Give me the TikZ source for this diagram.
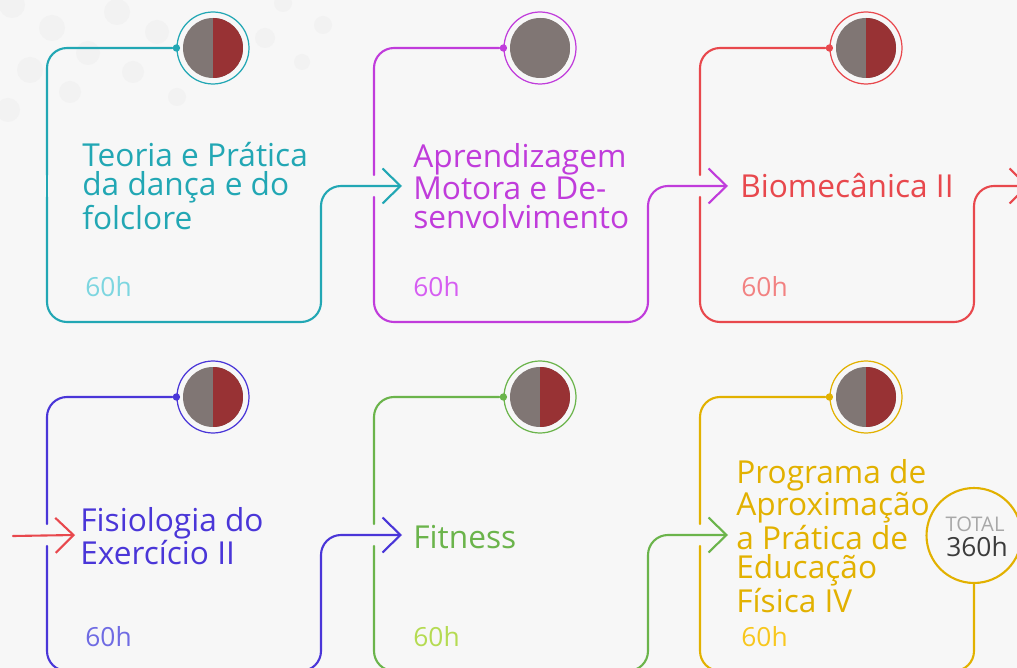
\documentclass[tikz,border=0pt]{standalone}
\usepackage{fontspec}
\setmainfont{Open Sans}
\usetikzlibrary{arrows.meta}

\definecolor{bg}{HTML}{F7F7F7}
\definecolor{speck}{HTML}{F2F2F2}
\definecolor{disc}{HTML}{807674}
\definecolor{half}{HTML}{983234}
\definecolor{teal}{HTML}{22A7B4}
\definecolor{teallt}{HTML}{7DD6E0}
\definecolor{mag}{HTML}{C03CDB}
\definecolor{maglt}{HTML}{D65EF2}
\definecolor{red}{HTML}{E8484D}
\definecolor{redlt}{HTML}{F28282}
\definecolor{blue}{HTML}{4A36D8}
\definecolor{bluelt}{HTML}{6F6BE3}
\definecolor{green}{HTML}{6BB44B}
\definecolor{greenlt}{HTML}{B5DB52}
\definecolor{gold}{HTML}{E2B100}
\definecolor{goldlt}{HTML}{F8C71E}
\definecolor{totgrey}{HTML}{A8A8A8}
\definecolor{totdark}{HTML}{3C3C3C}

\tikzset{
  wire/.style={line width=1.2pt, line cap=round, rounded corners=0.4cm},
  flow/.style={wire, -{Straight Barb[length=0.36cm, width=0.7cm]}},
  ring/.style 2 args={circle, draw=#1, line width=0.7pt, fill=bg, minimum size=1.44cm, inner sep=0pt,
    path picture={
      \fill[disc] (path picture bounding box.center) circle[radius=0.6cm];
      \fill[#2] ([yshift=0.6cm]path picture bounding box.center)
        arc[start angle=90, end angle=-90, radius=0.6cm] -- cycle;}},
  dot/.style={circle, fill=#1, inner sep=0pt, minimum size=4.2pt},
  title/.style={anchor=west, align=left, inner sep=0pt, font=\fontsize{18}{16.8}\selectfont},
  hours/.style={anchor=base west, inner sep=0pt, font=\fontsize{15}{15}\selectfont},
  totalring/.style={circle, draw=gold, line width=1.2pt, fill=bg, minimum size=1.9cm, inner sep=0pt},
}

\begin{document}
\begin{tikzpicture}[x=0.02cm, y=-0.02cm]
  \fill[bg] (0,0) rectangle (1017,668);
  \useasboundingbox (0,0) rectangle (1017,668);

  % faint specks top left
  \foreach \px/\py/\pr in {12/5/13, 52/28/13, 117/12/13, 157/32/12, 30/70/13, 88/53/12,
      70/92/11, 133/72/11, 8/110/12, 177/97/9, 265/38/10, 323/25/9, 302/62/8, 283/3/9}
    \fill[speck] (\px,\py) circle[radius=\pr*0.02cm];

  % cards: corners, rings, top lines
  \foreach \n/\lx/\ty/\col/\hc in {1/47/48/teal/half, 2/374/48/mag/disc, 3/700/48/red/half,
      4/47/397/blue/half, 5/374/397/green/half, 6/700/397/gold/half}{
    \coordinate (tl\n) at (\lx,\ty);
    \coordinate (gu\n) at (\lx,\ty+127);
    \coordinate (gd\n) at (\lx,\ty+149);
    \coordinate (bl\n) at (\lx,\ty+274);
    \coordinate (br\n) at (\lx+274,\ty+274);
    \coordinate (mr\n) at (\lx+274,\ty+138);
    \coordinate (in\n) at (\lx+28,\ty+138);
    \node[ring={\col}{\hc}] (c\n) at (\lx+166,\ty) {};
    \node[dot=\col] (d\n) at (c\n.west) {};
    \draw[wire, \col] (gu\n) -- (tl\n) -- (d\n);
  }

  \coordinate (out3) at (1029,186);
  \coordinate (src4) at (13,536);
  \node[totalring] (tot) at (974,535.5) {};
  \node[anchor=base, inner sep=0pt, totgrey, font=\fontsize{11.5}{11.5}\selectfont] (totlbl) at (975,531) {TOTAL};
  \node[anchor=base, inner sep=0pt, totdark, font=\fontsize{15}{15}\selectfont] (totval) at (977,556) {360h};

  % connectors
  \draw[wire, teal] (gu1) -- (gd1);
  \draw[flow, teal] (gd1) -- (bl1) -- (br1) -- (mr1) -- (in2);
  \draw[flow, mag] (gd2) -- (bl2) -- (br2) -- (mr2) -- (in3);
  \draw[flow, red] (gd3) -- (bl3) -- (br3) -- (mr3) -- (out3);
  \draw[flow, red] (src4) -- (in4);
  \draw[flow, blue] (gd4) -- (bl4) -- (br4) -- (mr4) -- (in5);
  \draw[flow, green] (gd5) -- (bl5) -- (br5) -- (mr5) -- (in6);
  \draw[wire, gold] (gd6) -- (bl6) -- (br6) -- (tot);

  % titles
  \node[title, teal] (t1) at (82,186) {Teoria e Prática\\da dança e do\\folclore};
  \node[title, mag] (t2) at (413,186) {Aprendizagem\\Motora e De-\\senvolvimento};
  \node[title, red] (t3) at (740,186) {Biomecânica II};
  \node[title, blue] (t4) at (80,536) {Fisiologia do\\Exercício II};
  \node[title, green] (t5) at (413,537) {Fitness};
  \node[title, gold] (t6) at (736,536) {Programa de\\Aproximação\\a Prática de\\Educação\\Física IV};

  % hours
  \node[hours, teallt] (h1) at (85,297) {60h};
  \node[hours, maglt] (h2) at (413,297) {60h};
  \node[hours, redlt] (h3) at (741,297) {60h};
  \node[hours, bluelt] (h4) at (85,646) {60h};
  \node[hours, greenlt] (h5) at (413,646) {60h};
  \node[hours, goldlt] (h6) at (741,646) {60h};
\end{tikzpicture}
\end{document}
